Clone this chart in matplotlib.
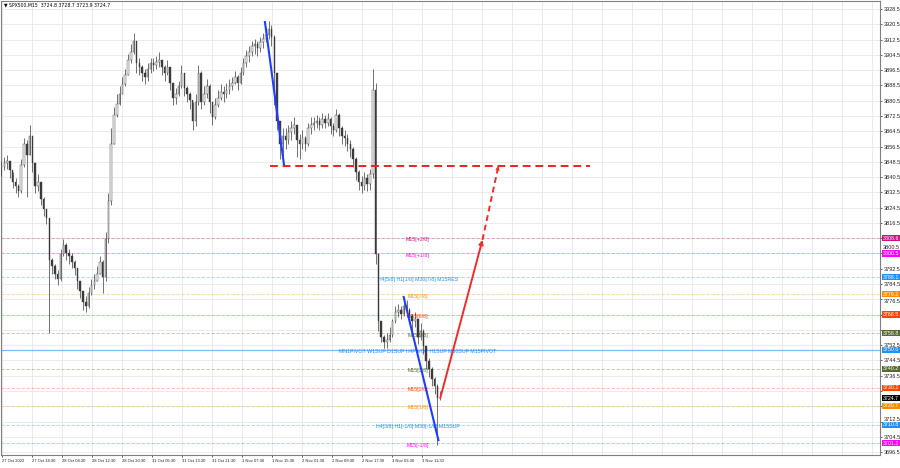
import numpy as np
import matplotlib.pyplot as plt
from matplotlib.transforms import blended_transform_factory

plt.rcParams['font.family'] = ['Liberation Sans', 'DejaVu Sans']

# SPX500 M15, one entry = 3 bars (close / high / low)
close = [3846, 3848, 3849, 3844, 3838, 3836, 3833, 3847, 3858, 3852,
         3862, 3848, 3836, 3838, 3829, 3824, 3819, 3797, 3794, 3790,
         3787, 3800, 3805, 3801, 3799, 3796, 3793, 3786, 3781, 3775,
         3773, 3780, 3784, 3786, 3790, 3796, 3788, 3808, 3828, 3858,
         3873, 3879, 3884, 3889, 3894, 3902, 3906, 3912, 3900, 3898,
         3895, 3893, 3897, 3900, 3899, 3901, 3902, 3898, 3895, 3898,
         3890, 3882, 3884, 3888, 3895, 3887, 3884, 3881, 3870, 3880,
         3895, 3880, 3884, 3888, 3880, 3872, 3878, 3882, 3885, 3884,
         3886, 3888, 3890, 3893, 3890, 3895, 3900, 3904, 3906, 3909,
         3910, 3908, 3911, 3913, 3915, 3918, 3914, 3895, 3870, 3858,
         3862, 3860, 3864, 3866, 3868, 3860, 3858, 3861, 3858, 3866,
         3868, 3869, 3870, 3868, 3871, 3869, 3871, 3867, 3865, 3873,
         3866, 3862, 3861, 3858, 3855, 3850, 3843, 3838, 3836, 3840,
         3837, 3842, 3886, 3800, 3765, 3757, 3754, 3755, 3758, 3765,
         3770, 3771, 3769, 3773, 3771, 3768, 3765, 3766, 3757, 3760,
         3752, 3744, 3740, 3735, 3731, 3724.8, 3724.7]
high = [3849, 3851, 3852, 3848, 3843, 3840, 3837, 3850, 3861, 3860,
        3868, 3862, 3846, 3842, 3838, 3830, 3823, 3816, 3798, 3795,
        3792, 3803, 3808, 3806, 3803, 3801, 3797, 3792, 3786, 3781,
        3778, 3783, 3787, 3790, 3794, 3799, 3797, 3812, 3832, 3866,
        3877, 3884, 3888, 3893, 3897, 3905, 3910, 3916, 3907, 3903,
        3899, 3897, 3900, 3903, 3903, 3904, 3906, 3902, 3899, 3902,
        3898, 3888, 3887, 3891, 3899, 3894, 3888, 3885, 3880, 3884,
        3899, 3896, 3888, 3892, 3889, 3880, 3882, 3886, 3889, 3888,
        3890, 3892, 3893, 3896, 3894, 3898, 3903, 3907, 3909, 3912,
        3913, 3912, 3914, 3916, 3919, 3922, 3920, 3915, 3880, 3868,
        3866, 3866, 3868, 3870, 3872, 3867, 3863, 3865, 3862, 3869,
        3872, 3872, 3873, 3872, 3874, 3873, 3874, 3872, 3869, 3876,
        3874, 3867, 3865, 3863, 3860, 3856, 3851, 3844, 3841, 3843,
        3842, 3845, 3897, 3890, 3800, 3763, 3758, 3759, 3762, 3766,
        3773, 3774, 3773, 3776, 3776, 3772, 3769, 3770, 3765, 3764,
        3761, 3752, 3746, 3741, 3736, 3732, 3728.7]
low = [3841, 3844, 3845, 3840, 3835, 3832, 3830, 3832, 3846, 3830,
       3852, 3843, 3832, 3833, 3826, 3820, 3816, 3759, 3790, 3787,
       3784, 3786, 3799, 3797, 3795, 3793, 3789, 3782, 3777, 3771,
       3770, 3772, 3779, 3782, 3786, 3790, 3780, 3786, 3806, 3826,
       3858, 3872, 3878, 3884, 3888, 3894, 3900, 3905, 3895, 3894,
       3891, 3889, 3891, 3895, 3896, 3897, 3898, 3894, 3891, 3894,
       3886, 3878, 3879, 3883, 3887, 3883, 3880, 3876, 3865, 3867,
       3878, 3876, 3878, 3882, 3874, 3868, 3871, 3877, 3881, 3880,
       3882, 3884, 3886, 3889, 3886, 3889, 3894, 3898, 3901, 3904,
       3905, 3904, 3906, 3908, 3911, 3913, 3909, 3878, 3865, 3850,
       3848, 3855, 3858, 3860, 3863, 3851, 3850, 3855, 3854, 3857,
       3863, 3865, 3866, 3865, 3866, 3866, 3867, 3863, 3862, 3864,
       3862, 3858, 3857, 3854, 3851, 3846, 3839, 3834, 3832, 3834,
       3833, 3834, 3840, 3795, 3760, 3754, 3751, 3751, 3754, 3757,
       3764, 3767, 3766, 3768, 3767, 3764, 3760, 3762, 3753, 3755,
       3748, 3740, 3736, 3731, 3727, 3700, 3723.9]

time_labels = ['27 Oct 2022', '27 Oct 18:30', '28 Oct 04:30', '28 Oct 12:30',
               '28 Oct 20:30', '31 Oct 05:30', '31 Oct 13:30', '31 Oct 21:30',
               '1 Nov 07:30', '1 Nov 15:30', '2 Nov 01:30', '2 Nov 09:30',
               '2 Nov 17:30', '3 Nov 03:30', '3 Nov 11:30']

price_ticks = [3928.5 - 8 * k for k in range(30)]
hidden_ticks = [3808.5, 3800.5, 3768.5, 3760.5, 3728.5, 3720.5]

levels = [3808.6, 3800.5, 3788.1, 3779.2, 3768.5, 3758.8,
          3750.0, 3740.2, 3730.2, 3720.7, 3710.8, 3701.2]
level_colors = ['#C71585', '#FF00FF', '#1E90FF', '#FF8C00', '#FF4500', '#556B2F',
                '#1E90FF', '#556B2F', '#FF4500', '#FF8C00', '#1E90FF', '#FF00FF']
level_texts = ['M15[+2/8]', 'M15[+1/8]', 'H4[5/8] H1[1/8] M30[7/8] M15RES',
               'M15[7/8]', 'M15[6/8]', 'M15[5/8]',
               'MN1PIVOT W1SUP D1SUP H4PIVOT H1SUP M30SUP M15PIVOT',
               'M15[3/8]', 'M15[2/8]', 'M15[1/8]',
               'H4[3/8] H1[-1/8] M30[-1/8] M15SUP', 'M15[-1/8]']
bid = 3724.7

# drawn objects: (bar, price) anchors
blue1 = ([281, 301.5], [3921.7, 3846.3])
blue2 = ([429, 466], [3777.7, 3702.8])
red_level = ([286, 628], [3846.3, 3846.3])
arrow_up = ((468, 3724.8), (513, 3807.6))
arrow_dash = ((513, 3807.6), (530, 3846.3))

fig = plt.figure(figsize=(9, 4.68), dpi=100)
ax = fig.add_axes([1 / 900, 13 / 468, 879 / 900, 454 / 468])
ax.set_xlim(-0.5, 937)
ax.set_ylim(3695.0, 3932.7)

# grid
for p in price_ticks:
    ax.axhline(p, color='#e8e8e8', lw=0.6, zorder=0)
grid_x = [1] + [33 + 32 * k for k in range(29)]
for gx in grid_x:
    ax.axvline(gx, color='#e8e8e8', lw=0.6, zorder=0)

# levels
for lv, col, txt in zip(levels, level_colors, level_texts):
    if lv == 3750.0:
        ax.axhline(lv, color=col, lw=0.9, alpha=0.6, zorder=1)
    else:
        ax.axhline(lv, color=col, lw=0.6, alpha=0.4, ls=(0, (4, 2)), zorder=1)
    ax.text(444, lv - 1, txt, color=col, fontsize=3.8, ha='center', va='center', zorder=2)

# candles
o = np.array([close[0]] + close[:-1], dtype=float)
c = np.array(close, dtype=float)
h = np.array(high, dtype=float)
l = np.array(low, dtype=float)
xb = np.arange(len(c)) * 3
ax.vlines(xb, l, h, color='#3a3a3a', lw=0.5, zorder=3)
bull = c >= o
body = np.maximum(np.abs(c - o), 0.4)
ax.bar(xb[bull], body[bull], bottom=np.minimum(o, c)[bull], width=1.6,
       color='#f4f4f4', edgecolor='#3a3a3a', lw=0.3, zorder=4)
ax.bar(xb[~bull], body[~bull], bottom=np.minimum(o, c)[~bull], width=1.6,
       color='#3a3a3a', edgecolor='#3a3a3a', lw=0.3, zorder=4)

# trend lines and arrows
ax.plot(*blue1, color='#1f3cff', lw=1.5, zorder=5)
ax.plot(*blue2, color='#1f3cff', lw=1.5, zorder=5)
ax.plot(*red_level, color='#f02020', lw=1.4, ls=(0, (4, 2.5)), zorder=5)
ax.annotate('', xy=arrow_up[1], xytext=arrow_up[0],
            arrowprops=dict(arrowstyle='-|>', color='#f52a2a', lw=1.4,
                            mutation_scale=6, shrinkA=0, shrinkB=0), zorder=5)
ax.plot([arrow_dash[0][0], arrow_dash[1][0]], [arrow_dash[0][1], arrow_dash[1][1]],
        color='#f52a2a', lw=1.4, ls=(0, (3, 2)), zorder=5)
ax.annotate('', xy=arrow_dash[1], xytext=(arrow_dash[1][0] - 1.3, arrow_dash[1][1] - 3),
            arrowprops=dict(arrowstyle='-|>', color='#f52a2a', lw=0.5,
                            mutation_scale=6, shrinkA=0, shrinkB=0), zorder=5)

# axes
ax.yaxis.tick_right()
ax.set_yticks(price_ticks)
ax.set_yticklabels(['' if p in hidden_ticks else f'{p:.1f}' for p in price_ticks])
ax.tick_params(axis='y', labelsize=4, length=1.5, pad=1, width=0.5, colors='#222222')
for lbl in ax.get_yticklabels():
    if lbl.get_text() == '3712.5':
        lbl.set_va('bottom')
    elif lbl.get_text() == '3776.5':
        lbl.set_va('top')
time_pos = [1] + [33 + 32 * k for k in range(len(time_labels) - 1)]
ax.set_xticks(time_pos)
ax.set_xticklabels(time_labels)
for lbl in ax.get_xticklabels():
    lbl.set_ha('left')
ax.tick_params(axis='x', labelsize=3, length=1.5, pad=1.5, width=0.5, colors='#222222')
for s in ax.spines.values():
    s.set_color('#808080')
    s.set_linewidth(0.8)

trans = blended_transform_factory(ax.transAxes, ax.transData)
# the 3800.5 grid price sits just above its coloured twin
ax.text(1.0 + 3 / 879, 3800.5 + 2.9, '3800.5', transform=trans, fontsize=4,
        color='#222222', ha='left', va='center', clip_on=False)
for lv, col in zip(levels + [bid], level_colors + ['black']):
    ax.text(1.0 + 3 / 879, lv, f'{lv:.1f}', transform=trans, fontsize=3.8, color='white',
            ha='left', va='center', clip_on=False,
            bbox=dict(boxstyle='square,pad=0.12', fc=col, ec='none'))

fig.text(4 / 900, 1 - 5 / 468, '\u25bc SPX500,M15  3724.8 3728.7 3723.9 3724.7',
         fontsize=3.3, ha='left', va='center', family=['DejaVu Sans'])

fig.savefig('out.png', dpi=100)
